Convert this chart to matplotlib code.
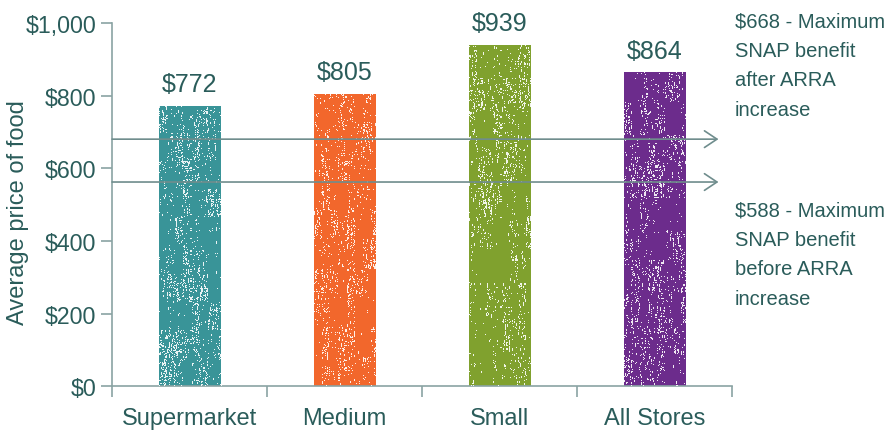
import numpy as np
import matplotlib
matplotlib.use("Agg")
import matplotlib.pyplot as plt

plt.rcParams['font.family'] = ['Liberation Sans', 'DejaVu Sans']

categories = ["Supermarket", "Medium", "Small", "All Stores"]
prices = [772, 805, 939, 864]
bar_colors = ["#399498", "#f2672c", "#80a12e", "#6c2c8c"]

# SNAP benefit reference lines (as drawn in the original)
snap_lines = [680, 562]
snap_notes = ["$668 - Maximum\nSNAP benefit\nafter ARRA\nincrease",
              "$588 - Maximum\nSNAP benefit\nbefore ARRA\nincrease"]

text_col = "#2a5c5a"
axis_col = "#8aa3a3"
line_col = "#6f8d8d"

fig = plt.figure(figsize=(8.85, 4.35), dpi=100)
ax = fig.add_axes([0.1266, 0.110, 0.701, 0.835])

x = np.arange(len(categories))
width = 0.4
bars = ax.bar(x, prices, width=width, color=bar_colors, zorder=2)

# chalky texture: white speckles clipped to each bar
rng = np.random.default_rng(3)
for b in bars:
    h, w = 300, 62
    noise = rng.random((h, w))
    streak = np.repeat(rng.random((h // 5, w)), 5, axis=0)
    blob = np.repeat(np.repeat(rng.random((h // 30, w // 8 + 1)), 30, axis=0), 8, axis=1)[:h, :w]
    mask = (noise * 0.4 + streak * 0.35 + blob * 0.25) > 0.74
    img = np.zeros((h, w, 4))
    img[..., :3] = 1.0
    img[..., 3] = mask * 0.9
    im = ax.imshow(img, extent=(b.get_x(), b.get_x() + b.get_width(), 0, b.get_height()),
                   aspect='auto', interpolation='nearest', zorder=3)
    im.set_clip_path(b)

for xi, v in zip(x, prices):
    ax.annotate(f"${v}", (xi, v), xytext=(0, 7), textcoords="offset points",
                ha='center', va='bottom', fontsize=18, color=text_col)

for yv in snap_lines:
    ax.annotate("", xy=(3.41, yv), xytext=(-0.5, yv),
                arrowprops=dict(arrowstyle="->,head_length=0.6,head_width=0.4",
                                color=line_col, lw=1.2, mutation_scale=15,
                                shrinkA=0, shrinkB=0),
                zorder=4, annotation_clip=False)

fig.text(0.8305, 0.848, snap_notes[0], ha='left', va='center', fontsize=14.5,
         color=text_col, linespacing=1.7)
fig.text(0.8305, 0.414, snap_notes[1], ha='left', va='center', fontsize=14.5,
         color=text_col, linespacing=1.7)

ax.set_xlim(-0.5, 3.5)
ax.set_ylim(0, 1000)
ax.set_yticks(range(0, 1001, 200))
ax.set_yticklabels([f"${v:,}" for v in range(0, 1001, 200)])
ax.set_xticks(x)
ax.set_xticklabels(categories)
ax.set_xticks(np.arange(-0.5, 4, 1), minor=True)
ax.tick_params(axis='x', which='major', length=0, pad=15, labelsize=17, labelcolor=text_col)
ax.tick_params(axis='x', which='minor', length=8, color=axis_col, width=1.2)
ax.tick_params(axis='y', length=8, color=axis_col, width=1.2, labelsize=16.7, labelcolor=text_col)
ax.set_ylabel("Average price of food", fontsize=17, color=text_col)
ax.yaxis.set_label_coords(-0.151, 0.482)
ax.yaxis.label.set_va('center')

for s in ['top', 'right']:
    ax.spines[s].set_visible(False)
for s in ['left', 'bottom']:
    ax.spines[s].set_color(axis_col)
    ax.spines[s].set_linewidth(1.2)

fig.savefig("out.png", dpi=100)
